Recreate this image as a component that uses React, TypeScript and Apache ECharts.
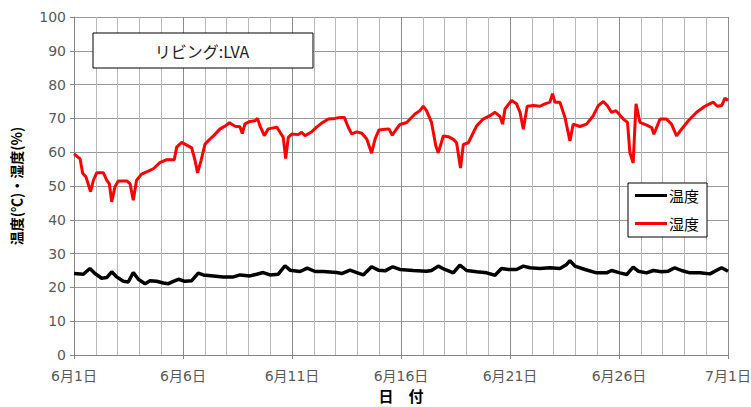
import React, { useEffect, useRef } from "react";
import * as echarts from "echarts";

const xLabels = ["6月1日", "6月6日", "6月11日", "6月16日", "6月21日", "6月26日", "7月1日"];

const tempDays = [
  0.0, 0.43, 0.73, 0.96, 1.27, 1.5, 1.73, 1.96, 2.26, 2.49, 2.72, 2.95, 3.26, 3.49, 3.79, 4.1, 4.33,
  4.56, 4.79, 5.09, 5.4, 5.7, 5.93, 6.39, 6.85, 7.31, 7.62, 8.07, 8.38, 8.68, 8.99, 9.37, 9.68, 9.91,
  10.37, 10.7, 11.06, 11.44, 12.05, 12.28, 12.66, 12.97, 13.27, 13.65, 13.96, 14.27, 14.62, 14.95,
  15.56, 16.17, 16.4, 16.71, 17.01, 17.4, 17.7, 18.01, 18.47, 18.93, 19.31, 19.61, 19.92, 20.3, 20.61,
  20.91, 21.37, 21.83, 22.29, 22.6, 22.75, 22.98, 23.44, 23.97, 24.43, 24.66, 25.04, 25.35, 25.65,
  25.88, 26.27, 26.57, 26.95, 27.26, 27.56, 27.87, 28.25, 28.71, 29.17, 29.4, 29.71, 30.0,
];
const tempValues = [
  24.1, 23.9, 25.6, 24.1, 22.7, 22.9, 24.6, 23.1, 21.8, 21.6, 24.4, 22.4, 21.1, 22.0, 21.8, 21.3, 21.1,
  21.8, 22.4, 21.8, 22.0, 24.2, 23.7, 23.4, 23.1, 23.1, 23.7, 23.4, 23.9, 24.4, 23.7, 23.9, 26.4, 25.1,
  24.7, 25.7, 24.7, 24.7, 24.4, 24.1, 25.1, 24.4, 23.7, 26.1, 25.1, 24.9, 26.1, 25.3,
  25.0, 24.8, 25.0, 26.3, 25.3, 24.3, 26.6, 25.0, 24.6, 24.3, 23.6, 25.6, 25.3, 25.3, 26.3,
  25.8, 25.6, 25.8, 25.6, 26.8, 27.9, 26.3, 25.3, 24.3, 24.3, 25.0, 24.3, 23.8, 26.0,
  24.8, 24.3, 25.0, 24.6, 24.8, 25.8, 25.0, 24.3, 24.3, 24.0, 24.8, 25.8, 24.8,
];

const humDays = [
  0.0, 0.28, 0.4, 0.55, 0.76, 0.89, 1.04, 1.35, 1.5, 1.62, 1.73, 1.88, 2.03, 2.42, 2.57, 2.72, 2.87,
  3.1, 3.41, 3.64, 3.94, 4.25, 4.6, 4.71, 4.94, 5.17, 5.4, 5.55, 5.67, 5.83, 6.01, 6.24, 6.47, 6.7,
  6.93, 7.13, 7.39, 7.61, 7.72, 7.84, 8.07, 8.3, 8.42, 8.53, 8.73, 8.91, 9.14, 9.3, 9.45, 9.6, 9.71,
  9.83, 10.0, 10.29, 10.44, 10.6, 10.87, 11.13, 11.36, 11.67, 11.97, 12.2, 12.4, 12.58, 12.74, 12.97,
  13.2, 13.43, 13.65, 13.81, 13.99, 14.27, 14.45, 14.6, 14.75, 14.95, 15.26, 15.64, 15.87, 16.02,
  16.17, 16.4, 16.6, 16.71, 16.94, 17.17, 17.4, 17.55, 17.73, 17.86, 18.09, 18.24, 18.47, 18.77,
  19.08, 19.31, 19.54, 19.66, 19.77, 20.07, 20.3, 20.46, 20.61, 20.79, 21.07, 21.37, 21.6, 21.83,
  21.95, 22.06, 22.29, 22.52, 22.75, 22.9, 23.21, 23.51, 23.82, 24.05, 24.28, 24.46, 24.66, 24.86,
  25.2, 25.39, 25.5, 25.65, 25.78, 25.96, 26.27, 26.5, 26.6, 26.88, 27.18, 27.41, 27.64, 27.87,
  28.18, 28.56, 28.94, 29.32, 29.51, 29.71, 29.86, 30.0,
];
const humValues = [
  59.5, 58, 53.7, 52.7, 48.3, 51.7, 53.9, 53.9, 51.7, 50.7, 45.3, 49.8, 51.5, 51.5, 50.7, 45.8, 51.7,
  53.5, 54.4, 55.1, 56.9, 57.8, 57.8, 61.5, 62.9, 62.1, 61.3, 57.6, 53.9, 57.6, 62.4, 63.9, 65.3, 66.9,
  67.7, 68.7, 67.7, 67.5, 65.5, 68.4, 69.1, 69.3, 70, 67.8, 64.9, 66.9, 67.2, 67.4, 65.9, 64.4, 58.1,
  64.4, 65.4, 65.2, 65.9, 64.9, 65.9, 67.4, 68.6, 69.8, 70, 70.3, 70.3, 67.4, 65.4, 66.0,
  65.6, 63.9, 59.7, 63.9, 66.6, 66.8, 66.9, 65, 66.5, 68.2, 68.8, 71.3, 72.3, 73.6,
  72.3, 68.8, 61.8, 59.8, 64.8, 64.6, 63.8, 62.8, 55.3, 62.3, 62.8, 64.8, 67.8, 69.8,
  70.8, 71.8, 70.6, 68.3, 72.8, 75.3, 74.3, 71.8, 66.8, 73.6, 73.8, 73.6, 74.3, 74.8,
  77.3, 74.8, 74.8, 70.3, 63.3, 68.3, 67.6, 68.3, 70.8, 73.8, 75, 73.8, 71.8, 72.3,
  69.8, 68.8, 59.8, 56.8, 74.3, 68.8, 68, 67.3, 65.3, 69.8, 69.8, 68.3, 64.8, 66.8,
  69.3, 71.8, 73.6, 74.8, 73.6, 73.8, 76, 75.3,
];

const zip = (a: number[], b: number[]) => a.map((d, i) => [d, b[i]]);

export default function App() {
  const ref = useRef<HTMLDivElement>(null);
  useEffect(() => {
    if (!ref.current) return;
    const chart = echarts.init(ref.current, null, { renderer: "svg" });
    const labelFont = "'DejaVu Sans', 'Noto Sans CJK JP', sans-serif";
    chart.setOption({
      animation: false,
      backgroundColor: "#fff",
      grid: { left: 74, top: 17, right: 23, bottom: 52, containLabel: false, outerBoundsMode: "none" },
      xAxis: {
        type: "value",
        min: 0,
        max: 30,
        interval: 5,
        name: "日　付",
        nameLocation: "middle",
        nameGap: 33,
        nameTextStyle: { fontSize: 15, fontWeight: "bold", color: "#000", fontFamily: "'Noto Sans CJK JP', sans-serif" },
        axisLine: { show: true, lineStyle: { color: "#868686", width: 1 } },
        axisTick: { show: true, length: 4, lineStyle: { color: "#868686" } },
        axisLabel: {
          fontSize: 14,
          color: "#595959",
          margin: 14,
          fontFamily: labelFont,
          formatter: (v: number) => {
            const i = Math.round(v / 5);
            return Math.abs(v - i * 5) < 1e-6 ? xLabels[i] ?? "" : "";
          },
        },
        splitLine: { show: true, lineStyle: { color: "#8c8c8c", width: 1 } },
        minorTick: { show: false, splitNumber: 5 },
        minorSplitLine: { show: true, lineStyle: { color: "#b8b8b8", width: 1 } },
      },
      yAxis: {
        type: "value",
        min: 0,
        max: 100,
        interval: 10,
        name: "温度(℃)・湿度(%)",
        nameLocation: "middle",
        nameRotate: 90,
        nameGap: 51,
        nameTextStyle: { fontSize: 14, fontWeight: "bold", color: "#000", fontFamily: "'Noto Sans CJK JP', sans-serif" },
        axisLine: { show: true, lineStyle: { color: "#868686", width: 1 } },
        axisTick: { show: true, length: 4, lineStyle: { color: "#868686" } },
        axisLabel: { fontSize: 14, color: "#595959", margin: 8, fontFamily: labelFont },
        splitLine: { show: true, lineStyle: { color: "#9a9a9a", width: 1 } },
      },
      legend: {
        orient: "vertical",
        left: 628,
        top: 183,
        padding: [5, 8, 6, 7],
        itemGap: 13,
        itemWidth: 32,
        itemHeight: 3,
        icon: "rect",
        borderColor: "#000",
        borderWidth: 1,
        backgroundColor: "#fff",
        textStyle: { fontSize: 15, color: "#000", fontFamily: "'Noto Sans CJK JP', sans-serif", padding: [0, 0, 0, -3] },
        data: ["温度", "湿度"],
      },
      graphic: [
        {
          type: "rect",
          shape: { x: 93, y: 33, width: 220, height: 35 },
          style: { fill: "#fff", stroke: "#000", lineWidth: 1 },
          z: 100,
        },
        {
          type: "text",
          x: 202,
          y: 51,
          style: {
            text: "リビング:LVA",
            fontSize: 16,
            fill: "#222",
            fontFamily: "'Noto Sans CJK JP', sans-serif",
            align: "center",
            verticalAlign: "middle",
          },
          z: 101,
        },
      ],
      series: [
        {
          name: "温度",
          type: "line",
          data: zip(tempDays, tempValues),
          showSymbol: false,
          symbol: "none",
          lineStyle: { color: "#000", width: 3.5 },
          itemStyle: { color: "#000" },
        },
        {
          name: "湿度",
          type: "line",
          data: zip(humDays, humValues),
          showSymbol: false,
          symbol: "none",
          lineStyle: { color: "#ff0000", width: 3 },
          itemStyle: { color: "#ff0000" },
        },
      ],
    });
    return () => chart.dispose();
  }, []);
  return (
    <div
      ref={ref}
      style={{ position: "fixed", left: 0, top: 0, width: 751, height: 407, background: "#fff" }}
    />
  );
}
